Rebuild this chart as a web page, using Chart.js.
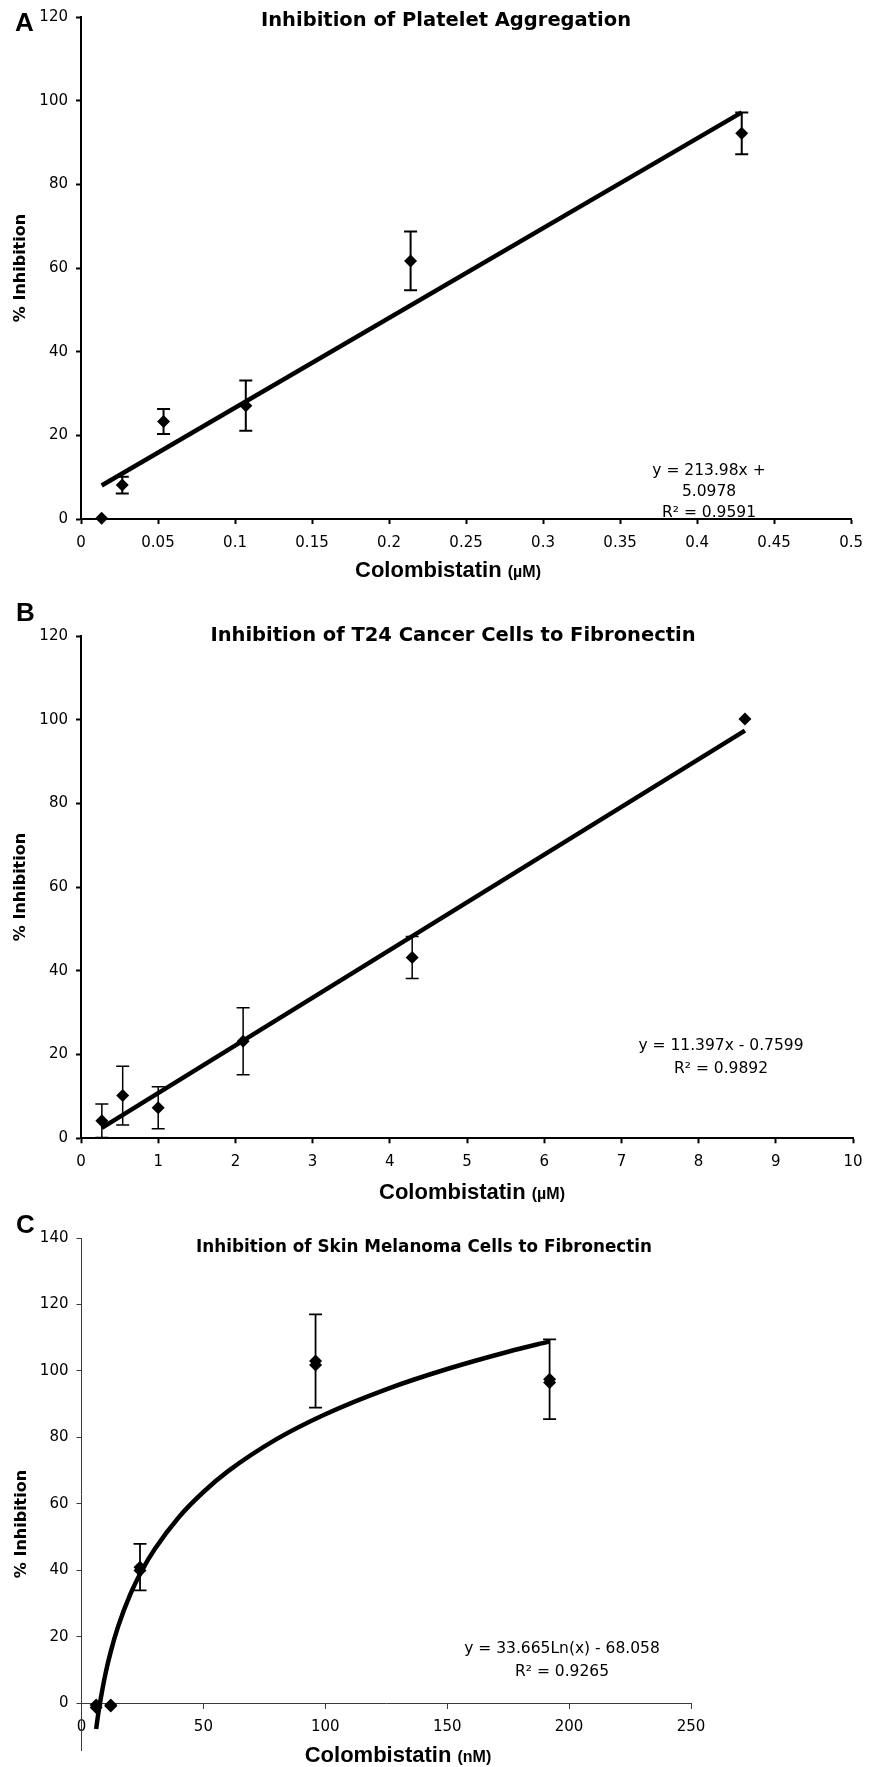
<!DOCTYPE html>
<html>
<head>
<meta charset="utf-8">
<script src="https://cdn.jsdelivr.net/npm/chart.js@4.4.1/dist/chart.umd.min.js"></script>
<style>
  html, body { margin: 0; padding: 0; background: #fff; }
  body { width: 873px; height: 1767px; position: relative; overflow: hidden; }
  canvas { position: absolute; left: 0; }
</style>
</head>
<body>
<canvas id="chartA" width="873" height="590" style="top:0px"></canvas>
<canvas id="chartB" width="873" height="615" style="top:590px"></canvas>
<canvas id="chartC" width="873" height="562" style="top:1205px"></canvas>
<script>
// A: platelet aggregation
const concA = [0.0134, 0.0268, 0.0536, 0.107, 0.214, 0.429];
const inhibA = [0.2, 8.1, 23.3, 27.1, 61.7, 92.2];
const errA = [0, 2.0, 3.0, 6.0, 7.0, 5.0];
const trendAx = [0.0134, 0.429];
const trendAy = [8.0, 97.2];
const xTicksA = [0, 0.05, 0.1, 0.15, 0.2, 0.25, 0.3, 0.35, 0.4, 0.45, 0.5];
const yTicksA = [0, 20, 40, 60, 80, 100, 120];

// B: T24 cancer cells
const concB = [0.27, 0.54, 1.0, 2.1, 4.29, 8.6];
const inhibB = [4.2, 10.2, 7.3, 23.2, 43.2, 100.2];
const errB = [4.0, 7.0, 5.0, 8.0, 5.0, 0];
const trendBx = [0.27, 8.6];
const trendBy = [2.5, 97.4];
const xTicksB = [0, 1, 2, 3, 4, 5, 6, 7, 8, 9, 10];
const yTicksB = [0, 20, 40, 60, 80, 100, 120];

// C: skin melanoma cells (two replicate series)
const concC = [6, 12, 24, 96, 192];
const inhibC1 = [-0.5, -0.5, 41, 103, 97.5];
const inhibC2 = [-1.2, -0.8, 40, 101.8, 96.5];
const errC = [0, 0, 7, 14, 12];
const trendCx = [6, 7, 8, 10, 12, 15, 20, 25, 30, 40, 50, 60, 80, 100, 125, 150, 175, 192];
const trendCy = [-7.7, -2.5, 1.9, 9.5, 15.6, 23.1, 32.8, 40.3, 46.4, 56.1, 63.6, 69.8, 79.5, 87.0, 94.5, 100.6, 105.8, 108.9];
const xTicksC = [0, 50, 100, 150, 200, 250];
const yTicksC = [0, 20, 40, 60, 80, 100, 120, 140];

const SANS = "'DejaVu Sans', Verdana, sans-serif";
const ARIAL = "'Liberation Sans', Arial, sans-serif";
Chart.defaults.font.family = SANS;
Chart.defaults.color = "#000";

function pts(xs, ys) {
  return xs.map((x, i) => ({ x: x, y: ys[i] }));
}

function fmt(v) {
  return String(+v.toFixed(3));
}

function axis(min, max, ticks, thin, isX) {
  const col = thin ? "#3a3a3a" : "#000";
  return {
    type: "linear",
    min: min,
    max: max,
    border: { display: true, color: col, width: thin ? 1 : 2 },
    grid: { display: true, drawOnChartArea: false, drawTicks: true, tickLength: 5, tickWidth: thin ? 1 : 2, tickColor: col },
    ticks: { font: { size: 15 }, color: "#000", padding: isX ? 10 : 8, callback: v => fmt(v) },
    afterBuildTicks: s => { s.ticks = ticks.map(v => ({ value: v })); },
    afterFit: s => { if (isX) s.height = 40; else s.width = 60; }
  };
}

// error bars + all the text, drawn through the chart's own scales
function decorations(cfg) {
  return {
    id: "deco" + cfg.letter,
    afterDatasetsDraw(chart) {
      const ctx = chart.ctx, xs = chart.scales.x, ys = chart.scales.y;
      ctx.save();
      ctx.strokeStyle = "#000";
      ctx.lineWidth = cfg.errWidth;
      cfg.errX.forEach((v, i) => {
        const e = cfg.err[i];
        if (!e) return;
        const px = xs.getPixelForValue(v);
        const t = ys.getPixelForValue(cfg.errY[i] + e);
        const b = ys.getPixelForValue(cfg.errY[i] - e);
        ctx.beginPath();
        ctx.moveTo(px, t); ctx.lineTo(px, b);
        ctx.moveTo(px - 6.5, t); ctx.lineTo(px + 6.5, t);
        ctx.moveTo(px - 6.5, b); ctx.lineTo(px + 6.5, b);
        ctx.stroke();
      });
      ctx.restore();
    },
    afterDraw(chart) {
      const ctx = chart.ctx;
      ctx.save();
      ctx.fillStyle = "#000";
      // panel letter
      ctx.font = "bold 26px " + ARIAL;
      ctx.textAlign = "left";
      ctx.textBaseline = "alphabetic";
      ctx.fillText(cfg.letter, cfg.letterPos[0], cfg.letterPos[1]);
      // title
      ctx.font = "bold " + cfg.titleSize + "px " + SANS;
      ctx.textAlign = "center";
      ctx.textBaseline = "middle";
      ctx.fillText(cfg.title, cfg.titlePos[0], cfg.titlePos[1]);
      // y title
      ctx.save();
      ctx.translate(cfg.yTitlePos[0], cfg.yTitlePos[1]);
      ctx.rotate(-Math.PI / 2);
      ctx.font = "bold 16px " + SANS;
      ctx.fillText("% Inhibition", 0, 0);
      ctx.restore();
      // x title, unit in a smaller size
      const parts = [
        { text: "Colombistatin ", font: "bold 22px " + ARIAL },
        { text: cfg.unit, font: "bold 16px " + ARIAL }
      ];
      let total = 0;
      parts.forEach(p => { ctx.font = p.font; p.w = ctx.measureText(p.text).width; total += p.w; });
      let x = cfg.xTitlePos[0] - total / 2;
      ctx.textAlign = "left";
      ctx.textBaseline = "alphabetic";
      parts.forEach(p => { ctx.font = p.font; ctx.fillText(p.text, x, cfg.xTitlePos[1]); x += p.w; });
      // trendline equation
      ctx.font = "15.5px " + SANS;
      ctx.textAlign = "center";
      ctx.textBaseline = "middle";
      cfg.eq.forEach((line, i) => ctx.fillText(line, cfg.eqPos[0], cfg.eqPos[1] + i * cfg.eqStep));
      ctx.restore();
    }
  };
}

function markerSet(xs, ys) {
  return {
    type: "scatter",
    data: pts(xs, ys),
    pointStyle: "rectRot",
    pointRadius: 6.5,
    pointBackgroundColor: "#000",
    pointBorderColor: "#000",
    pointBorderWidth: 0,
    clip: false,
    order: 1
  };
}

function trendSet(xs, ys) {
  return {
    type: "line",
    data: pts(xs, ys),
    borderColor: "#000",
    borderWidth: 4.5,
    pointRadius: 0,
    tension: 0.4,
    cubicInterpolationMode: "monotone",
    fill: false,
    clip: false,
    order: 0
  };
}

const baseOpts = {
  responsive: false,
  animation: false,
  events: [],
  plugins: { legend: { display: false }, tooltip: { enabled: false } }
};

new Chart(document.getElementById("chartA"), {
  type: "scatter",
  data: { datasets: [markerSet(concA, inhibA), trendSet(trendAx, trendAy)] },
  options: Object.assign({}, baseOpts, {
    layout: { padding: { left: 21, right: 21.7, top: 17, bottom: 31 } },
    scales: {
      x: Object.assign(axis(0, 0.5, xTicksA, false, true), { position: "bottom" }),
      y: Object.assign(axis(0, 120, yTicksA, false, false), { position: "left" })
    }
  }),
  plugins: [decorations({
    letter: "A", letterPos: [15, 31],
    title: "Inhibition of Platelet Aggregation", titleSize: 19.5, titlePos: [446, 21],
    yTitlePos: [21, 268], unit: "(\u00b5M)", xTitlePos: [448, 577],
    eq: ["y = 213.98x +", "5.0978", "R\u00b2 = 0.9591"], eqPos: [709, 471], eqStep: 21,
    errX: concA, errY: inhibA, err: errA, errWidth: 2
  })]
});

new Chart(document.getElementById("chartB"), {
  type: "scatter",
  data: { datasets: [markerSet(concB, inhibB), trendSet(trendBx, trendBy)] },
  options: Object.assign({}, baseOpts, {
    layout: { padding: { left: 21, right: 20, top: 46, bottom: 26.7 } },
    scales: {
      x: Object.assign(axis(0, 10, xTicksB, false, true), { position: "bottom" }),
      y: Object.assign(axis(0, 120, yTicksB, false, false), { position: "left" })
    }
  }),
  plugins: [decorations({
    letter: "B", letterPos: [16, 31],
    title: "Inhibition of T24 Cancer Cells to Fibronectin", titleSize: 19.5, titlePos: [453, 46],
    yTitlePos: [21, 297], unit: "(\u00b5M)", xTitlePos: [472, 609],
    eq: ["y = 11.397x - 0.7599", "R\u00b2 = 0.9892"], eqPos: [721, 456], eqStep: 23,
    errX: concB, errY: inhibB, err: errB, errWidth: 1.5
  })]
});

new Chart(document.getElementById("chartC"), {
  type: "scatter",
  data: { datasets: [markerSet(concC, inhibC1), markerSet(concC, inhibC2), trendSet(trendCx, trendCy)] },
  options: Object.assign({}, baseOpts, {
    layout: { padding: { left: 21.5, right: 182, top: 33, bottom: 16 } },
    scales: {
      x: Object.assign(axis(0, 250, xTicksC, true, true), { position: { y: 0 } }),
      y: Object.assign(axis(-14, 140, yTicksC, true, false), { position: "left" })
    }
  }),
  plugins: [decorations({
    letter: "C", letterPos: [16, 28],
    title: "Inhibition of Skin Melanoma Cells to Fibronectin", titleSize: 16.8, titlePos: [424, 43],
    yTitlePos: [22, 319], unit: "(nM)", xTitlePos: [398, 557],
    eq: ["y = 33.665Ln(x) - 68.058", "R\u00b2 = 0.9265"], eqPos: [562, 444], eqStep: 23,
    errX: concC, errY: inhibC1, err: errC, errWidth: 1.8
  })]
});
</script>
</body>
</html>
